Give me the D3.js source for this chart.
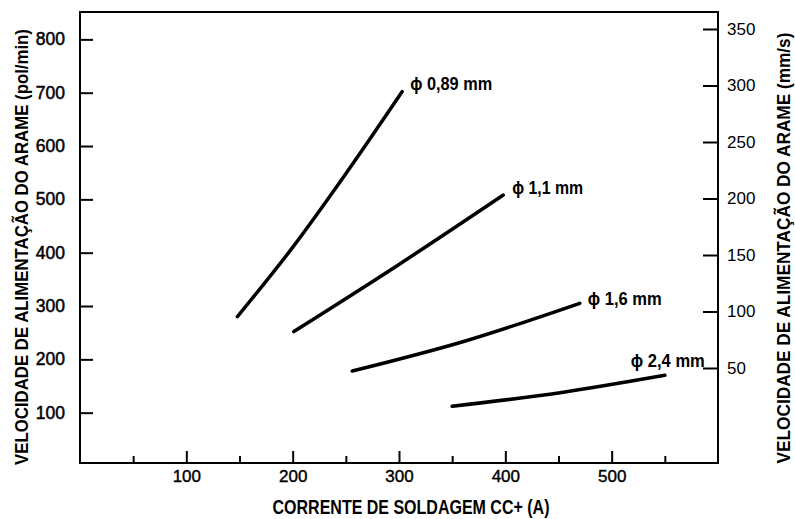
<!DOCTYPE html>
<html>
<head>
<meta charset="utf-8">
<script src="https://cdn.jsdelivr.net/npm/d3@7"></script>
<style>
  body { margin: 0; background: #fff; }
  svg { display: block; }
  .narrow { font-family: "Liberation Sans", Arial, sans-serif; font-weight: bold; }
  .tick text { font-family: "Liberation Sans", Arial, sans-serif; }
</style>
</head>
<body>
<svg id="chart" width="795" height="519"></svg>
<script>
// wire diameters and their curves: current (A) vs wire feed speed (pol/min)
const diameters = ['0,89', '1,1', '1,6', '2,4']
const currents = [
  [148, 200, 250, 303],
  [201, 300, 398],
  [256, 360, 470],
  [350, 450, 550]
]
const speeds = [
  [280, 410, 548, 702],
  [252, 378, 508],
  [178, 233, 305],
  [112, 137, 170]
]

const xMajor = [100, 200, 300, 400, 500]
const xMinor = [50, 150, 250, 350, 450, 550]
const leftTicks = [100, 200, 300, 400, 500, 600, 700, 800]
const rightTicks = [50, 100, 150, 200, 250, 300, 350]

const leftTitle = 'VELOCIDADE DE ALIMENTAÇÃO DO ARAME (pol/min)'
const rightTitle = 'VELOCIDADE DE ALIMENTAÇÃO DO ARAME (mm/s)'
const bottomTitle = 'CORRENTE DE SOLDAGEM CC+ (A)'

const svg = d3.select('#chart')
const frameL = 80, frameR = 718, frameT = 12, frameB = 463

const x = d3.scaleLinear().domain([0, 600]).range([frameL, frameR])
const yL = d3.scaleLinear().domain([0, 850]).range([466, 12.7])
const yR = d3.scaleLinear().domain([0, 350]).range([424.5, 29])

// axes, ticks pointing into the frame
svg.append('g')
  .attr('transform', `translate(${frameL},0)`)
  .call(d3.axisLeft(yL).tickValues(leftTicks).tickSize(-13).tickPadding(15))
  .call(g => g.selectAll('text').attr('font-size', 17.5).attr('stroke', '#000').attr('stroke-width', 0.5))

svg.append('g')
  .attr('transform', `translate(${frameR},0)`)
  .call(d3.axisRight(yR).tickValues(rightTicks).tickSize(-15).tickPadding(9))
  .call(g => g.selectAll('text').attr('font-size', 17))

svg.append('g')
  .attr('transform', `translate(0,${frameB})`)
  .call(d3.axisBottom(x).tickValues(xMajor).tickSize(-12).tickPadding(7))
  .call(g => g.selectAll('text').attr('font-size', 17).attr('stroke', '#000').attr('stroke-width', 0.4))

svg.append('g')
  .attr('transform', `translate(0,${frameB})`)
  .call(d3.axisBottom(x).tickValues(xMinor).tickSize(-7).tickFormat(''))

svg.selectAll('.domain').remove()
svg.selectAll('.tick line').attr('stroke', '#000').attr('stroke-width', 2)
svg.selectAll('.tick text').attr('fill', '#000')

svg.append('rect')
  .attr('x', frameL).attr('y', frameT)
  .attr('width', frameR - frameL).attr('height', frameB - frameT)
  .attr('fill', 'none').attr('stroke', '#000').attr('stroke-width', 2)

// curves
const line = d3.line()
  .x(d => x(d[0]))
  .y(d => yL(d[1]))
  .curve(d3.curveMonotoneX)

const series = diameters.map((name, i) => ({
  name,
  pts: currents[i].map((c, j) => [c, speeds[i][j]])
}))

svg.append('g').selectAll('path')
  .data(series)
  .join('path')
    .attr('d', d => line(d.pts))
    .attr('fill', 'none')
    .attr('stroke', '#000')
    .attr('stroke-width', 3.5)
    .attr('stroke-linecap', 'round')

// condensed bold text: squeeze horizontally to the width seen in the picture
function narrowText (g, str, size, width, place, anchor) {
  const t = g.append('text')
    .attr('class', 'narrow')
    .attr('font-size', size)
    .attr('text-anchor', anchor || 'start')
    .text(str)
  const k = width / t.node().getComputedTextLength()
  t.attr('transform', `${place} scale(${k},1)`)
  return t
}

const labelShift = [[8, -2], [9, -1], [8, 2], [-34, -8]]
const labelWidth = [82, 71, 74, 74]

const labels = svg.append('g')
series.forEach((d, i) => {
  const end = d.pts[d.pts.length - 1]
  const lx = x(end[0]) + labelShift[i][0]
  const ly = yL(end[1]) + labelShift[i][1]
  narrowText(labels, `\u03d5 ${d.name} mm`, 19, labelWidth[i], `translate(${lx},${ly})`)
})

// titles
narrowText(svg, leftTitle, 19, 436, 'translate(28,247) rotate(-90)', 'middle')
narrowText(svg, rightTitle, 19, 431, 'translate(790,248) rotate(-90)', 'middle')
narrowText(svg, bottomTitle, 20, 277, 'translate(411,514)', 'middle')
</script>
</body>
</html>
